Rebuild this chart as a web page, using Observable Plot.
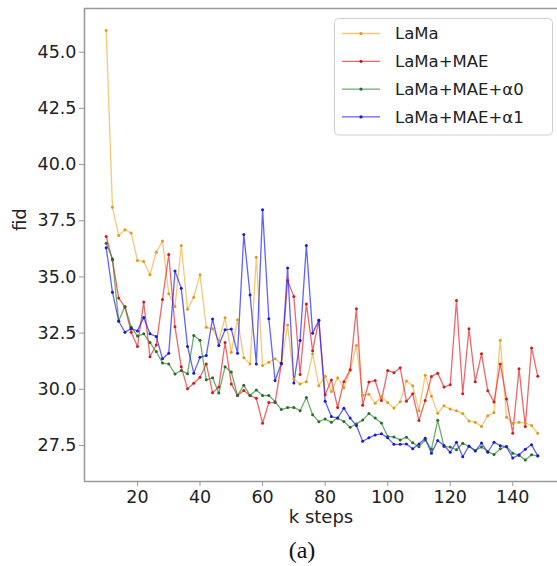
<!DOCTYPE html>
<html>
<head>
<meta charset="utf-8">
<script src="https://cdn.jsdelivr.net/npm/d3@7"></script>
<script src="https://cdn.jsdelivr.net/npm/@observablehq/plot@0.6"></script>
<style>
  body { margin: 0; background: #fff; }
  #chart { width: 557px; height: 566px; }
</style>
</head>
<body>
<div id="chart"></div>
<script>
const steps = [10,12,14,16,18,20,22,24,26,28,30,32,34,36,38,40,42,44,46,48,50,52,54,56,58,60,62,64,66,68,70,72,74,76,78,80,82,84,86,88,90,92,94,96,98,100,102,104,106,108,110,112,114,116,118,120,122,124,126,128,130,132,134,136,138,140,142,144,146,148];

const lama = [45.97,38.1,36.84,37.1,36.95,35.73,35.69,35.1,36.1,36.6,34.25,33.68,36.4,33.56,34.1,35.1,32.76,32.69,32.17,33.18,31.65,33.09,31.4,31.13,35.88,31.06,31.2,31.36,31.13,32.86,30.46,30.24,30.34,31.58,30.16,30.58,29.9,30.51,30.07,30.84,31.95,29.74,29.78,29.38,29.68,29.41,29.17,29.45,30.37,30.16,29.05,30.63,29.69,28.93,29.27,29.12,29.05,28.92,28.59,28.53,28.35,28.82,28.97,32.18,28.76,28.48,28.53,28.5,28.39,28.04];

const lamaMae = [36.8,35.75,34.06,33.66,32.54,31.91,33.88,31.45,31.97,34.0,36.0,32.78,31.0,30.02,30.27,30.54,31.13,29.85,30.1,32.08,30.24,29.72,29.95,29.72,29.6,28.49,29.41,29.41,31.13,34.84,34.13,30.66,33.8,31.72,33.08,29.76,30.41,29.19,30.34,30.87,33.58,29.29,30.32,30.39,29.5,30.84,30.74,30.96,29.47,29.8,28.61,29.5,30.57,30.72,30.1,30.2,33.95,29.8,32.69,30.34,31.58,29.94,29.43,31.13,29.57,28.05,30.91,28.35,31.84,30.58];

const lamaMaeA0 = [36.5,35.8,33.05,33.68,32.76,32.37,32.47,32.08,31.68,31.17,31.13,30.68,30.84,30.69,32.39,32.18,30.42,30.51,29.84,31.0,30.77,29.72,30.18,29.72,29.97,29.72,29.73,29.45,29.1,29.19,29.19,29.05,29.64,28.87,28.56,28.68,28.53,28.72,28.57,28.31,28.46,28.63,28.92,28.72,28.5,27.9,27.88,27.75,27.87,27.62,27.44,27.75,27.33,28.62,27.46,27.43,27.31,27.6,27.46,27.28,27.43,27.23,27.1,27.35,27.46,27.16,27.06,26.86,27.09,27.03];

const lamaMaeA1 = [36.3,34.32,33.03,32.54,32.7,32.6,33.2,32.47,32.35,31.36,31.6,35.27,34.5,31.91,30.72,31.43,31.5,33.13,31.95,32.65,32.68,31.61,36.89,34.2,31.13,37.99,33.14,30.39,31.16,35.4,30.28,32.17,36.4,32.5,33.06,29.47,28.79,28.72,29.16,28.72,28.39,27.69,27.84,27.97,28.02,27.84,27.55,27.55,27.57,27.36,27.57,27.82,27.16,27.72,27.5,27.2,27.65,27.0,27.48,27.25,27.61,27.2,27.65,27.49,27.44,26.94,27.09,27.33,27.53,27.04];

const seriesNames = ["LaMa", "LaMa+MAE", "LaMa+MAE+α0", "LaMa+MAE+α1"];
const seriesValues = [lama, lamaMae, lamaMaeA0, lamaMaeA1];
const lineColors = ["#f2b13a", "#e8262a", "#2f8a2f", "#1f1fff"];
const dotColors = ["#dc9a20", "#c81e22", "#2a6a2a", "#1a1acc"];

const xTicks = [20, 40, 60, 80, 100, 120, 140];
const yTicks = [27.5, 30.0, 32.5, 35.0, 37.5, 40.0, 42.5, 45.0];
const xDomain = [3.06, 154.3];
const yDomain = [25.898, 46.945];

const table = [];
seriesNames.forEach((name, i) => {
  steps.forEach((k, j) => table.push({series: name, step: k, fid: seriesValues[i][j]}));
});

const spine = "#9a9a9a";

const plot = Plot.plot({
  width: 557,
  height: 566,
  marginLeft: 84,
  marginRight: 0,
  marginTop: 8,
  marginBottom: 85,
  style: {fontFamily: "DejaVu Sans", fontSize: "17.5px", color: "#222", background: "#fff"},
  x: {domain: xDomain, label: null},
  y: {domain: yDomain, label: null},
  color: {domain: seriesNames, range: lineColors},
  marks: [
    Plot.line(table, {x: "step", y: "fid", z: "series", stroke: "series", strokeWidth: 1.3, strokeOpacity: 0.7}),
    ...seriesNames.map((name, i) =>
      Plot.dot(table.filter(d => d.series === name), {x: "step", y: "fid", r: 1.5, fill: dotColors[i], stroke: "none"})
    ),
    Plot.ruleX([xDomain[0]], {stroke: spine, strokeWidth: 1.6}),
    Plot.ruleY([yDomain[0], yDomain[1]], {stroke: spine, strokeWidth: 1.6}),
    Plot.axisX({ticks: xTicks, tickSize: 5, tickPadding: 4, stroke: spine, label: null, fill: "#222"}),
    Plot.axisY({ticks: yTicks, tickSize: 5, tickPadding: 3, tickFormat: d3.format(".1f"), stroke: spine, label: null, fill: "#222"}),
    Plot.text(["k steps"], {frameAnchor: "bottom", lineAnchor: "middle", dy: 36, fontSize: 18, fill: "#222"}),
    Plot.text(["fid"], {frameAnchor: "left", dx: -64, dy: -14, rotate: -90, fontSize: 18, fill: "#222"}),
    Plot.text(["(a)"], {frameAnchor: "bottom", lineAnchor: "middle", dx: -19, dy: 69, fontSize: 24, fontFamily: "Liberation Serif", fill: "#111"})
  ]
});

// legend drawn inside the svg, upper right
const svg = d3.select(plot);
const lg = svg.append("g").attr("class", "legend").attr("text-anchor", "start");
lg.append("rect")
  .attr("x", 334.5).attr("y", 18.5).attr("width", 218).attr("height", 116.5)
  .attr("rx", 4).attr("fill", "#fff").attr("fill-opacity", 0.85)
  .attr("stroke", "#d0d0d0").attr("stroke-width", 1);
seriesNames.forEach((name, i) => {
  const yy = 33.5 + i * 27.8;
  lg.append("line").attr("x1", 342).attr("x2", 380).attr("y1", yy).attr("y2", yy)
    .attr("stroke", lineColors[i]).attr("stroke-width", 1.3).attr("stroke-opacity", 0.7);
  lg.append("circle").attr("cx", 361).attr("cy", yy).attr("r", 1.6).attr("fill", dotColors[i]);
  lg.append("text").attr("x", 395).attr("y", yy).attr("dy", "0.36em")
    .attr("text-anchor", "start")
    .attr("font-family", "DejaVu Sans").attr("font-size", 16.5).attr("fill", "#222")
    .text(name);
});

document.getElementById("chart").appendChild(plot);
</script>
</body>
</html>
